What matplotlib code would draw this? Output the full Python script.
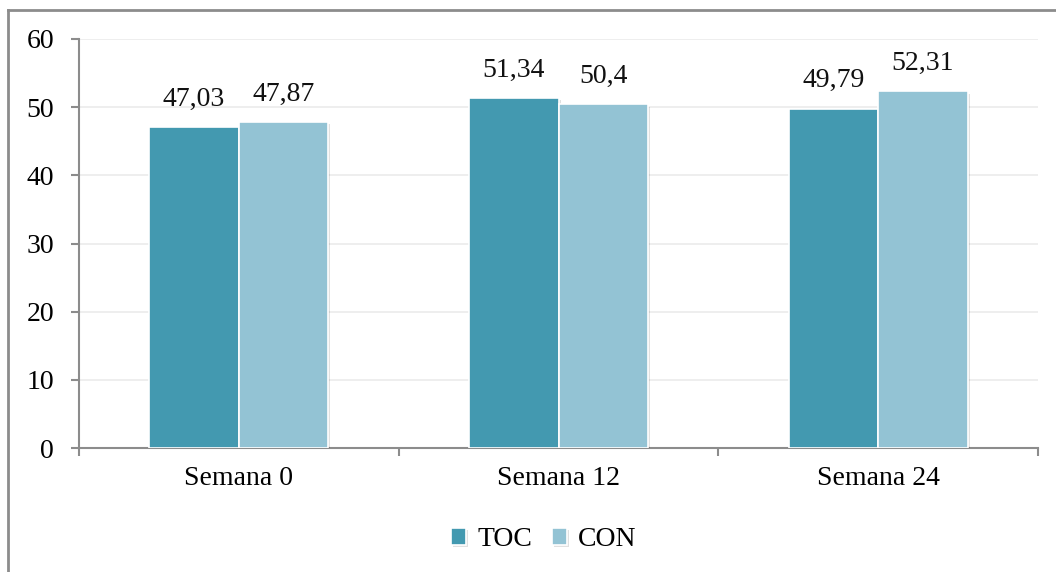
import matplotlib
matplotlib.use("Agg")
import matplotlib.pyplot as plt
import matplotlib.patheffects as pe
import numpy as np

categories = ["Semana 0", "Semana 12", "Semana 24"]
series_names = ["TOC", "CON"]
toc_values = [47.03, 51.34, 49.79]
con_values = [47.87, 50.4, 52.31]
value_labels_toc = ["47,03", "51,34", "49,79"]
value_labels_con = ["47,87", "50,4", "52,31"]
y_ticks = [0, 10, 20, 30, 40, 50, 60]

colors = ["#4399B0", "#93C3D4"]
axis_gray = "#8C8C8C"
font = "Liberation Serif"
fsize = 20

fig = plt.figure(figsize=(10.56, 5.72), dpi=100)
fig.patch.set_facecolor("white")

# outer chart frame (top and left edges visible)
fig.add_artist(plt.Line2D([8 / 1056, 1.0], [1 - 10 / 572, 1 - 10 / 572],
                          color="#8C8C8C", lw=2, transform=fig.transFigure))
fig.add_artist(plt.Line2D([8 / 1056, 8 / 1056], [1 - 10 / 572, 0.0],
                          color="#8C8C8C", lw=2, transform=fig.transFigure))

ax = fig.add_axes([79 / 1056, 1 - 448 / 572, (1038 - 79) / 1056, (448 - 39) / 572])

x = np.arange(len(categories))
width = 0.28
shadow = [pe.SimplePatchShadow(offset=(1.5, -1.5), shadow_rgbFace="#000000", alpha=0.12), pe.Normal()]

for i, (vals, labels) in enumerate([(toc_values, value_labels_toc), (con_values, value_labels_con)]):
    pos = x + (i - 0.5) * width
    bars = ax.bar(pos, vals, width, color=colors[i], edgecolor="white", linewidth=1.2,
                  label=series_names[i], zorder=3)
    for b in bars:
        b.set_path_effects(shadow)
    for p, v, lab in zip(pos, vals, labels):
        ax.annotate(lab, (p, v), xytext=(0, 11), textcoords="offset points",
                    ha="center", va="bottom", fontsize=fsize, family=font, color="#111111")

ax.set_xlim(-0.5, len(categories) - 0.5)
ax.set_ylim(0, 60)
ax.set_yticks(y_ticks)
ax.set_yticklabels([str(t) for t in y_ticks], fontsize=fsize, family=font)
ax.tick_params(axis="y", length=6, width=1.5, color=axis_gray, pad=12)

ax.set_xticks(x)
ax.set_xticklabels(categories, fontsize=fsize, family=font)
ax.set_xticks(np.arange(len(categories) + 1) - 0.5, minor=True)
ax.tick_params(axis="x", which="major", length=0, pad=13)
ax.tick_params(axis="x", which="minor", length=6, width=1.5, color=axis_gray)

ax.grid(axis="y", color="#EBEBEB", lw=1.2, zorder=0)
ax.set_axisbelow(True)
for s in ["top", "right"]:
    ax.spines[s].set_visible(False)
for s in ["left", "bottom"]:
    ax.spines[s].set_color(axis_gray)
    ax.spines[s].set_linewidth(1.5)

leg = fig.legend(loc="center", bbox_to_anchor=(0.515, 1 - 540 / 572), ncol=2, frameon=False,
                 prop={"family": font, "size": fsize}, handlelength=0.55, handleheight=0.55,
                 handletextpad=0.4, columnspacing=0.7)

fig.savefig("out.png", dpi=100, facecolor="white")
